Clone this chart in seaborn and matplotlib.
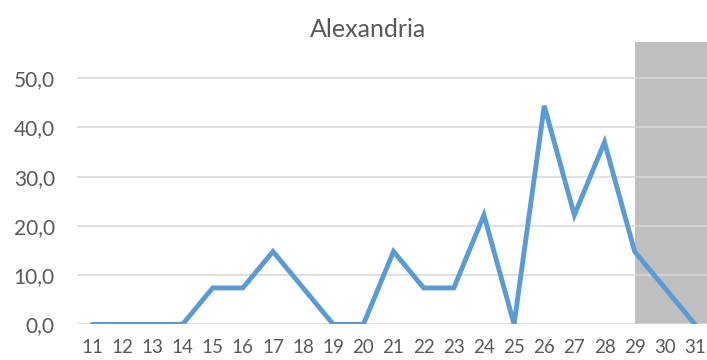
import matplotlib
matplotlib.use("Agg")
import matplotlib.pyplot as plt
import seaborn as sns
import pandas as pd

days = list(range(11, 32))
values = [0.0, 0.0, 0.0, 0.0, 7.4, 7.4, 14.8, 7.4, 0.0, 0.0, 14.8,
          7.4, 7.4, 22.2, 0.0, 44.4, 22.2, 37.0, 14.8, 7.4, 0.0]
y_ticks = [0, 10, 20, 30, 40, 50]
shade_start = 29
title = "Alexandria"

df = pd.DataFrame({"day": days, "value": values})

sns.set_theme(style="white")
plt.rcParams["font.family"] = ["Lato", "DejaVu Sans"]

fig = plt.figure(figsize=(7.07, 3.6), dpi=100)
ax = fig.add_axes([0.109, 0.099, 0.891, 0.7835])

text_color = "#595959"

# shaded band for the last days
ax.axvspan(shade_start, 40, ymin=0, ymax=1, color="#BFBFBF", lw=0, zorder=0.2)

sns.lineplot(data=df, x="day", y="value", ax=ax, color="#5B9BD5",
             linewidth=3.5, zorder=3, solid_capstyle="round",
             solid_joinstyle="miter")

ax.set_xlim(10.5, 31.4)
ax.set_ylim(0, 57.3)
ax.set_xticks(days)
ax.set_xticklabels([str(d) for d in days])
ax.set_yticks(y_ticks)
ax.set_yticklabels([f"{t:.1f}".replace(".", ",") for t in y_ticks])

ax.grid(axis="y", color="#D9D9D9", linewidth=1.1, zorder=0.5)
ax.grid(axis="x", visible=False)
ax.set_axisbelow(True)

for s in ax.spines.values():
    s.set_visible(False)

ax.tick_params(axis="y", length=0, pad=16, labelsize=15, labelcolor=text_color)
ax.tick_params(axis="x", length=0, pad=10.5, labelsize=13.5, labelcolor=text_color)
ax.set_xlabel("")
ax.set_ylabel("")

fig.text(0.52, 0.919, title, ha="center", va="center", fontsize=18,
         color=text_color)

fig.savefig("out.png", dpi=100)
